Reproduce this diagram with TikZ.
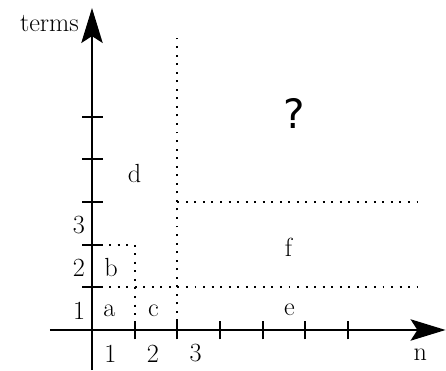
\documentclass[tikz,border=0pt]{standalone}
\usepackage{fontspec}
\usepackage{tikz}
\usetikzlibrary{arrows.meta}
\newfontfamily\qfont{DejaVu Sans}
\tikzset{
  axis/.style    ={-{Stealth[length=8.2mm,width=5mm,inset=1.6mm]}, line width=1.3pt},
  tickmark/.style={line width=1.3pt},
  gridline/.style={line width=1.3pt, dash pattern=on 1.3pt off 4.4pt},
  lbl/.style     ={font=\fontsize{17.5}{20}\selectfont, inner sep=0pt},
}

\begin{document}
\begin{tikzpicture}
  \useasboundingbox (-2.157,-0.961) rectangle (8.30,7.737);
  % axes
  \coordinate (xs) at (-0.985,0);  \coordinate (xe) at (8.29,0);
  \coordinate (ys) at (0,-0.94);   \coordinate (ye) at (0,7.55);
  \draw[axis] (xs)--(xe);
  \draw[axis] (ys)--(ye);
  \foreach \i in {1,...,6} \draw[tickmark] (\i,-0.22)--(\i,0.2);
  \foreach \i in {1,...,5} \draw[tickmark] (-0.23,\i)--(0.26,\i);

  % regions
  \draw[gridline] (0,2)--(1,2)--(1,0);
  \draw[gridline] (0,1)--(7.63,1);
  \draw[gridline] (2,0)--(2,6.86);
  \draw[gridline] (2,3)--(7.63,3);

  % axis labels
  \node[lbl, anchor=base east] (terms) at (-0.3,6.99) {terms};
  \node[lbl] (n) at (7.7,-0.59) {n};
  \node[lbl] (x1) at (0.43,-0.55) {1};
  \node[lbl] (x2) at (1.43,-0.55) {2};
  \node[lbl] (x3) at (2.43,-0.55) {3};
  \node[lbl] (y1) at (-0.3,0.45) {1};
  \node[lbl] (y2) at (-0.31,1.45) {2};
  \node[lbl] (y3) at (-0.31,2.45) {3};

  % region labels
  \node[lbl] (a) at (0.41,0.45) {a};
  \node[lbl] (b) at (0.45,1.46) {b};
  \node[lbl] (c) at (1.44,0.45) {c};
  \node[lbl] (d) at (1.0,3.68) {d};
  \node[lbl] (e) at (4.63,0.48) {e};
  \node[lbl] (f) at (4.61,1.93) {f};
  \node[inner sep=0pt, font=\qfont\fontsize{27}{30}\selectfont] (q) at (4.75,5.08) {?};
\end{tikzpicture}
\end{document}
